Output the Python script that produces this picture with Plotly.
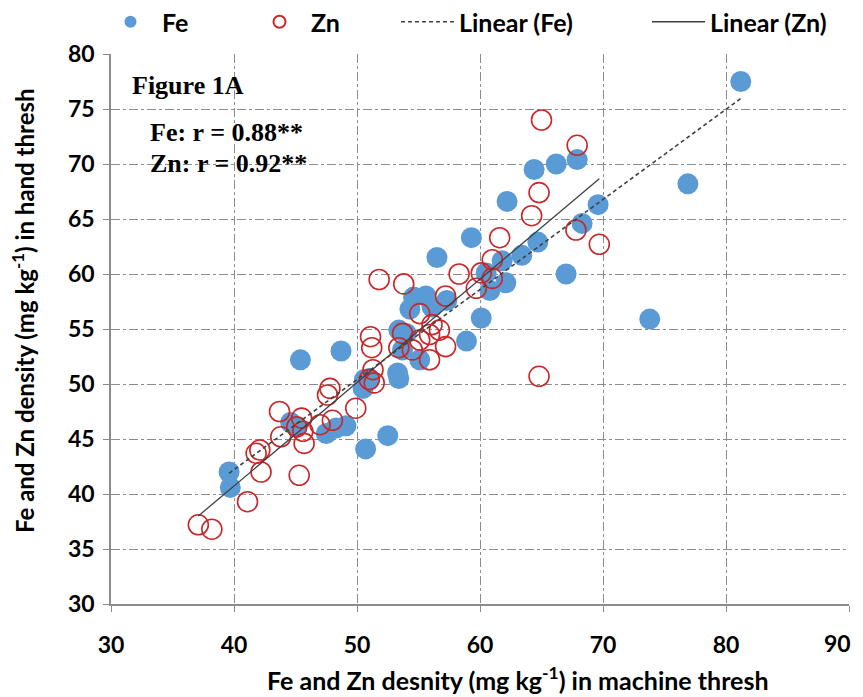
import plotly.graph_objects as go

# ---- data ----
fe_x = [81.2, 76.9, 73.8, 64.4, 66.2, 67.9, 62.2, 69.6, 68.3, 64.7, 63.4, 67.0, 62.1,
        59.3, 56.5, 61.8, 60.5, 60.8, 60.1, 58.9, 57.3, 54.6, 55.6, 54.3, 56.1, 53.4,
        55.1, 53.3, 53.4, 51.0, 50.5, 48.7, 45.4, 39.6, 39.7, 44.6, 45.1, 48.3, 49.1,
        47.5, 50.7, 52.5, 50.6, 53.7, 54.0]
fe_y = [77.5, 68.2, 55.9, 69.5, 70.0, 70.4, 66.6, 66.3, 64.6, 62.9, 61.7, 60.0, 59.2,
        63.3, 61.5, 61.2, 60.1, 58.5, 56.0, 53.9, 57.6, 57.9, 58.0, 56.8, 57.0, 54.9,
        52.2, 51.0, 50.5, 50.5, 49.6, 53.0, 52.2, 42.0, 40.6, 46.5, 46.1, 46.0, 46.2,
        45.5, 44.1, 45.3, 50.4, 53.1, 54.6]

zn_x = [65.0, 67.9, 64.8, 64.2, 67.8, 69.7, 61.6, 61.0, 61.0, 60.1, 58.3, 59.7, 57.2,
        53.8, 51.8, 55.1, 56.1, 56.7, 55.9, 57.2, 51.1, 51.2, 53.7, 55.1, 53.4, 54.5,
        55.9, 51.3, 51.0, 51.4, 49.9, 47.8, 47.6, 48.0, 47.0, 45.5, 45.6, 45.7, 45.1,
        43.8, 43.7, 42.1, 41.8, 42.2, 45.3, 41.1, 37.1, 38.2, 64.8]
zn_y = [74.0, 71.7, 67.4, 65.3, 64.0, 62.7, 63.3, 61.3, 59.6, 60.1, 60.0, 58.7, 58.0,
        59.1, 59.5, 56.4, 55.4, 54.9, 54.5, 53.4, 54.3, 53.3, 54.6, 54.0, 53.3, 53.1,
        52.2, 51.3, 50.4, 50.1, 47.8, 49.6, 49.0, 46.7, 46.3, 46.9, 45.7, 44.6, 46.1,
        45.2, 47.5, 44.0, 43.7, 42.0, 41.7, 39.3, 37.2, 36.8, 50.7]

# linear trend coefficients read from the drawn trendlines
fe_slope, fe_intercept = 0.819, 9.45
zn_slope, zn_intercept = 0.94, 3.13

x_ticks = [30, 40, 50, 60, 70, 80, 90]
y_ticks = [30, 35, 40, 45, 50, 55, 60, 65, 70, 75, 80]

FONT = "Lato"
SERIF = "Liberation Serif"
BLUE = "#5B9BD5"
RED = "#C8282A"
LINE = "#404040"
GRID = "#8c8c8c"

fe_line_x = [min(fe_x), max(fe_x)]
fe_line_y = [fe_slope * v + fe_intercept for v in fe_line_x]
zn_line_x = [min(zn_x), max(zn_x)]
zn_line_y = [zn_slope * v + zn_intercept for v in zn_line_x]

fig = go.Figure()
fig.add_trace(go.Scatter(x=fe_x, y=fe_y, mode="markers", name="Fe",
                         marker=dict(color=BLUE, size=21, line=dict(width=0)),
                         legend="legend"))
fig.add_trace(go.Scatter(x=zn_x, y=zn_y, mode="markers", name="Zn",
                         marker=dict(symbol="circle-open", color=RED, size=20,
                                     line=dict(width=1.6, color=RED)),
                         legend="legend2"))
fig.add_trace(go.Scatter(x=fe_line_x, y=fe_line_y, mode="lines", name="Linear (Fe)",
                         line=dict(color=LINE, width=1.6, dash="4px,3px"),
                         legend="legend3"))
fig.add_trace(go.Scatter(x=zn_line_x, y=zn_line_y, mode="lines", name="Linear (Zn)",
                         line=dict(color=LINE, width=1.3),
                         legend="legend4"))

# page is drawn with an 8px body margin; convert screen positions to figure positions
OFF = 8
W, H = 863 - OFF, 697 - OFF
PL, PT = 111 - OFF, 54 - OFF
PR = W - (849 - OFF)
PB = H - (604 - OFF)
pw = W - PL - PR
ph = H - PT - PB


def px_x(p):
    return (p - OFF - PL) / pw


def px_y(p):
    return (H - PB - (p - OFF)) / ph


leg_common = dict(orientation="h", yanchor="middle", xanchor="left",
                  font=dict(family=FONT, size=25, color="#000000", weight="bold"),
                  bgcolor="rgba(0,0,0,0)", itemwidth=53)

TICKFONT = dict(family=FONT, size=23, color="#000000", weight="bold")

# last x tick label is drawn right-aligned so it stays inside the window
x_ticktext = [str(v) for v in x_ticks[:-1]] + [""]

fig.update_layout(
    width=W, height=H,
    margin=dict(l=PL, r=PR, t=PT, b=PB, autoexpand=False),
    plot_bgcolor="white", paper_bgcolor="white",
    font=dict(family=FONT, size=19, color="#000000"),
    showlegend=True,
    legend=dict(x=px_x(99), y=px_y(22), itemsizing="constant", **leg_common),
    legend2=dict(x=px_x(248), y=px_y(22), itemsizing="constant", **leg_common),
    legend3=dict(x=px_x(396), y=px_y(22), **leg_common),
    legend4=dict(x=px_x(647), y=px_y(22), **leg_common),
    xaxis=dict(range=[30, 90], tickvals=x_ticks, ticktext=x_ticktext,
               showgrid=True, gridcolor=GRID, griddash="dashdot", gridwidth=1,
               showline=True, linecolor=GRID, linewidth=1.5, mirror=False,
               ticks="outside", ticklen=6, tickcolor=GRID, ticklabelstandoff=14,
               ticklabeloverflow="allow", tickfont=TICKFONT, zeroline=False),
    yaxis=dict(range=[30, 80], tickvals=y_ticks, ticktext=[str(v) for v in y_ticks],
               showgrid=True, gridcolor=GRID, griddash="dashdot", gridwidth=1,
               showline=True, linecolor=GRID, linewidth=1.5,
               ticks="outside", ticklen=6, tickcolor=GRID, ticklabelstandoff=4,
               ticklabeloverflow="allow", tickfont=TICKFONT, zeroline=False),
)

fig.add_annotation(text=str(x_ticks[-1]), xref="x", yref="paper",
                   x=x_ticks[-1], y=px_y(643), xanchor="right", yanchor="middle",
                   xshift=4, showarrow=False, font=TICKFONT)

# axis titles (positioned as in the reference)
fig.add_annotation(text="<b>Fe and Zn desnity (mg kg<sup>-1</sup>) in machine thresh</b>",
                   xref="paper", yref="paper", x=px_x(518), y=px_y(679),
                   xanchor="center", yanchor="middle", showarrow=False,
                   font=dict(family=FONT, size=25, color="#000"))
fig.add_annotation(text="<b>Fe and Zn density (mg kg<sup>-1</sup>) in hand thresh</b>",
                   xref="paper", yref="paper", x=px_x(23), y=px_y(311),
                   xanchor="center", yanchor="middle", showarrow=False, textangle=-90,
                   font=dict(family=FONT, size=24, color="#000"))

fig.add_annotation(text="<b>Figure 1A</b>", xref="paper", yref="paper",
                   x=px_x(130), y=px_y(85), xanchor="left", yanchor="middle",
                   showarrow=False, font=dict(family=SERIF, size=26, color="#000"))
fig.add_annotation(text="<b>Fe: r = 0.88**</b>", xref="paper", yref="paper",
                   x=px_x(148), y=px_y(132), xanchor="left", yanchor="middle",
                   showarrow=False, font=dict(family=SERIF, size=26, color="#000"))
fig.add_annotation(text="<b>Zn: r = 0.92**</b>", xref="paper", yref="paper",
                   x=px_x(148), y=px_y(163), xanchor="left", yanchor="middle",
                   showarrow=False, font=dict(family=SERIF, size=26, color="#000"))

fig.write_html("out.html")
